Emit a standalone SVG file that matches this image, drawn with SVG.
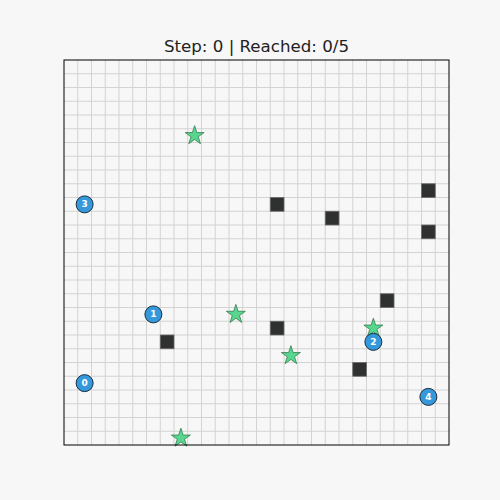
<svg xmlns="http://www.w3.org/2000/svg" width="500" height="500" viewBox="0 0 500 500">
<style>
.grid{stroke:#d3d3d3;stroke-width:1;fill:none}
.obs{fill:#2f3030;stroke:#6b6b6b;stroke-width:0.8}
.goal{fill:#58d68d;stroke:#2a6e45;stroke-width:0.7}
.agent circle{fill:#3498db;stroke:#1c2e3d;stroke-width:1}
.agent text{fill:#ffffff;font-family:"DejaVu Sans",sans-serif;font-weight:bold;font-size:9px;text-anchor:middle;dominant-baseline:central}
.title{font-family:"DejaVu Sans",sans-serif;font-size:16.67px;fill:#222;text-anchor:middle}
</style>
<defs>
<path id="star" d="M0,-10 L2.245,-3.09 L9.511,-3.09 L3.633,1.18 L5.878,8.09 L0,3.82 L-5.878,8.09 L-3.633,1.18 L-9.511,-3.09 L-2.245,-3.09 Z"/>
</defs>
<rect width="500" height="500" fill="#f7f7f7"/>
<text class="title" x="256.5" y="52">Step: 0 | Reached: 0/5</text>
<g id="grid">
<path class="grid" d="M77.75,60V445M91.5,60V445M105.25,60V445M119,60V445M132.75,60V445M146.5,60V445M160.25,60V445M174,60V445M187.75,60V445M201.5,60V445M215.25,60V445M229,60V445M242.75,60V445M256.5,60V445M270.25,60V445M284,60V445M297.75,60V445M311.5,60V445M325.25,60V445M339,60V445M352.75,60V445M366.5,60V445M380.25,60V445M394,60V445M407.75,60V445M421.5,60V445M435.25,60V445
M64,73.75H449M64,87.5H449M64,101.25H449M64,115H449M64,128.75H449M64,142.5H449M64,156.25H449M64,170H449M64,183.75H449M64,197.5H449M64,211.25H449M64,225H449M64,238.75H449M64,252.5H449M64,266.25H449M64,280H449M64,293.75H449M64,307.5H449M64,321.25H449M64,335H449M64,348.75H449M64,362.5H449M64,376.25H449M64,390H449M64,403.75H449M64,417.5H449M64,431.25H449"/>
</g>
<g id="obstacles">
<rect class="obs" x="270.25" y="197.5" width="13.75" height="13.75"/>
<rect class="obs" x="325.25" y="211.25" width="13.75" height="13.75"/>
<rect class="obs" x="421.5" y="183.75" width="13.75" height="13.75"/>
<rect class="obs" x="421.5" y="225" width="13.75" height="13.75"/>
<rect class="obs" x="380.25" y="293.75" width="13.75" height="13.75"/>
<rect class="obs" x="270.25" y="321.25" width="13.75" height="13.75"/>
<rect class="obs" x="160.25" y="335" width="13.75" height="13.75"/>
<rect class="obs" x="352.75" y="362.5" width="13.75" height="13.75"/>
</g>
<g id="goals">
<use class="goal" href="#star" x="194.625" y="135.625"/>
<use class="goal" href="#star" x="235.875" y="314.375"/>
<use class="goal" href="#star" x="373.375" y="328.125"/>
<use class="goal" href="#star" x="290.875" y="355.625"/>
<use class="goal" href="#star" x="180.875" y="438.125"/>
</g>
<g id="agent0" class="agent"><circle cx="84.625" cy="383.125" r="8.5"/><text x="84.625" y="383.125">0</text></g>
<g id="agent1" class="agent"><circle cx="153.375" cy="314.375" r="8.5"/><text x="153.375" y="314.375">1</text></g>
<g id="agent2" class="agent"><circle cx="373.375" cy="341.875" r="8.5"/><text x="373.375" y="341.875">2</text></g>
<g id="agent3" class="agent"><circle cx="84.625" cy="204.375" r="8.5"/><text x="84.625" y="204.375">3</text></g>
<g id="agent4" class="agent"><circle cx="428.375" cy="396.875" r="8.5"/><text x="428.375" y="396.875">4</text></g>
<rect x="64" y="60" width="385" height="385" fill="none" stroke="#000" stroke-width="1"/>
</svg>
